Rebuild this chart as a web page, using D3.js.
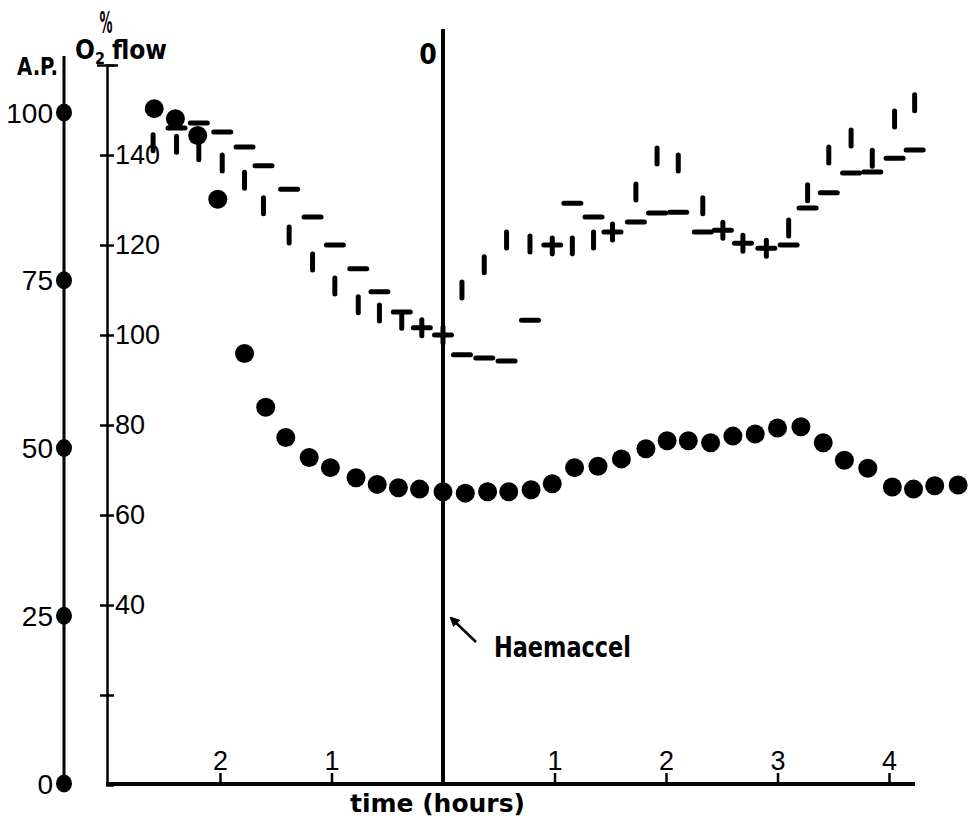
<!DOCTYPE html>
<html>
<head>
<meta charset="utf-8">
<script src="https://cdn.jsdelivr.net/npm/d3@7"></script>
<style>
  body { margin: 0; background: #fff; }
  svg { display: block; background: #fff; }
</style>
</head>
<body>
<svg width="975" height="820"></svg>
<script>
// arterial pressure (dots), % of control
var apTime = [-2.59,-2.40,-2.20,-2.02,-1.78,-1.59,-1.41,-1.20,-1.01,-0.78,-0.59,-0.40,-0.21,0,
  0.20,0.40,0.59,0.79,0.98,1.18,1.39,1.60,1.82,2.01,2.20,2.40,2.60,2.80,3.00,3.21,3.41,3.60,3.81,4.03,4.22,4.41,4.62];
var apValue = [100.5,99,96.5,87,64,56,51.5,48.5,47,45.5,44.5,44,43.8,43.4,
  43.2,43.4,43.4,43.7,44.6,47,47.2,48.3,49.8,51,51,50.7,51.7,52,52.9,53.1,50.7,48.1,46.9,44.1,43.8,44.3,44.4];

// O2 flow marks: horizontal dashes and vertical bars
var flowTime = [-2.60,-2.39,-2.19,-1.98,-1.78,-1.61,-1.38,-1.17,-0.97,-0.76,-0.57,-0.37,-0.19,0,
  0.17,0.37,0.57,0.78,0.98,1.16,1.35,1.52,1.73,1.92,2.11,2.33,2.51,2.69,2.90,3.10,3.27,3.46,3.66,3.85,4.05,4.23];
var flowDash = [null,146,147.1,145.1,141.8,137.6,132.4,126.2,120,114.7,109.6,105.1,101.6,100,
  95.6,94.9,94.2,103.3,120,129.3,126.2,122.9,125.1,127.1,127.3,122.9,123.3,120.4,119.3,120,128.2,131.6,136,136.2,139.3,141.1];
var flowBar = [142.7,142.4,140.7,138.2,134.4,128.7,122.2,116.2,110.9,106.7,104.9,103.3,101.6,100,
  110,115.6,121.1,120.2,119.8,119.8,121.1,122.9,131.8,139.8,138.2,128.7,123.3,120.4,119.3,123.8,131.6,140,143.8,139.3,148,151.6];

var apTicks = [0, 25, 50, 75, 100];
var flowTicks = [20, 40, 60, 80, 100, 120, 140, 160];
var timeTicks = [-2, -1, 0, 1, 2, 3, 4];

var svg = d3.select("svg");
var numFont = "'Liberation Sans', Arial, sans-serif";
var boldFont = "'Liberation Sans Narrow', 'DejaVu Sans Condensed', 'Liberation Sans', sans-serif";

var x = d3.scaleLinear().domain([0, 4]).range([443, 889]);
var yAP = d3.scaleLinear().domain([0, 100]).range([783, 112]);
var yFlow = d3.scaleLinear().domain([0, 160]).range([785, 65]);

// A.P. axis
svg.append("line")
  .attr("x1", 64).attr("x2", 64).attr("y1", 56).attr("y2", 792)
  .attr("stroke", "#000").attr("stroke-width", 3);

var apAxis = svg.append("g")
  .attr("transform", "translate(64,0)")
  .call(d3.axisLeft(yAP).tickValues(apTicks).tickSize(0).tickPadding(11));
apAxis.select(".domain").remove();
apAxis.selectAll(".tick text")
  .attr("font-family", numFont).attr("font-size", 28).attr("fill", "#000")
  .attr("dy", "0.36em");
apAxis.selectAll(".tick").append("ellipse")
  .attr("rx", 8).attr("ry", 9).attr("fill", "#000");

// O2 flow axis
var flowAxis = svg.append("g")
  .attr("transform", "translate(107,0)")
  .call(d3.axisRight(yFlow).tickValues(flowTicks).tickSizeOuter(0).tickSize(7).tickPadding(1)
    .tickFormat(function(d) { return (d === 20 || d === 160) ? "" : d; }));
flowAxis.select(".domain").attr("stroke", "#000").attr("stroke-width", 2.5);
flowAxis.selectAll(".tick line")
  .attr("x1", function(d) { return d === 160 ? -10 : -7; })
  .attr("x2", function(d) { return d === 160 ? 11 : 7; })
  .attr("stroke", "#000").attr("stroke-width", 2.5);
flowAxis.selectAll(".tick text")
  .attr("font-family", numFont).attr("font-size", 27).attr("fill", "#000");

// time axis
svg.append("line")
  .attr("x1", 106).attr("x2", 915).attr("y1", 784).attr("y2", 784)
  .attr("stroke", "#000").attr("stroke-width", 4);
var timeAxis = svg.append("g")
  .attr("transform", "translate(0,784)")
  .call(d3.axisTop(x).tickValues(timeTicks).tickSize(11).tickPadding(3)
    .tickFormat(function(d) { return d === 0 ? "" : Math.abs(d); }));
timeAxis.select(".domain").remove();
timeAxis.selectAll(".tick line").attr("stroke", "#000").attr("stroke-width", 2.5);
timeAxis.selectAll(".tick text")
  .attr("font-family", numFont).attr("font-size", 27).attr("fill", "#000");

// infusion line at time 0
svg.append("line")
  .attr("x1", x(0)).attr("x2", x(0)).attr("y1", 29).attr("y2", 784)
  .attr("stroke", "#000").attr("stroke-width", 4);

// labels
svg.append("text").attr("x", 17).attr("y", 75)
  .attr("font-family", boldFont).attr("font-weight", "bold").attr("font-size", 24)
  .attr("textLength", 41).attr("lengthAdjust", "spacingAndGlyphs").text("A.P.");
svg.append("text").attr("x", 106).attr("y", 33).attr("text-anchor", "middle")
  .attr("font-family", boldFont).attr("font-weight", "bold").attr("font-size", 31)
  .attr("textLength", 13).attr("lengthAdjust", "spacingAndGlyphs").text("%");
var o2 = svg.append("text").attr("x", 75).attr("y", 59)
  .attr("font-family", boldFont).attr("font-weight", "bold").attr("font-size", 26);
o2.append("tspan").text("O");
o2.append("tspan").attr("font-size", 16).attr("dy", 5).text("2");
o2.append("tspan").attr("dy", -5).attr("dx", 7).text("flow");
svg.append("text").attr("x", 428).attr("y", 64).attr("text-anchor", "middle")
  .attr("font-family", boldFont).attr("font-weight", "bold").attr("font-size", 28).text("0");
svg.append("text").attr("x", 350).attr("y", 812)
  .attr("font-family", boldFont).attr("font-weight", "bold").attr("font-size", 25)
  .attr("textLength", 175).attr("lengthAdjust", "spacingAndGlyphs").text("time (hours)");
svg.append("text").attr("x", 494).attr("y", 657)
  .attr("font-family", boldFont).attr("font-weight", "bold").attr("font-size", 28)
  .attr("textLength", 137).attr("lengthAdjust", "spacingAndGlyphs").text("Haemaccel");

// arrow to infusion line
svg.append("defs").append("marker")
  .attr("id", "arrow").attr("viewBox", "0 0 10 10").attr("refX", 8).attr("refY", 5)
  .attr("markerWidth", 4).attr("markerHeight", 4).attr("orient", "auto")
  .append("path").attr("d", "M0,0L10,5L0,10z").attr("fill", "#000");
svg.append("line")
  .attr("x1", 476).attr("y1", 642).attr("x2", 451).attr("y2", 618)
  .attr("stroke", "#000").attr("stroke-width", 2.5).attr("marker-end", "url(#arrow)");

// O2 flow marks
var flow = flowTime.map(function(t, i) { return { t: t, dash: flowDash[i], bar: flowBar[i] }; });
svg.append("g").selectAll("line")
  .data(flow.filter(function(d) { return d.dash !== null; }))
  .enter().append("line")
  .attr("x1", function(d) { return x(d.t) - 8.5; })
  .attr("x2", function(d) { return x(d.t) + 8.5; })
  .attr("y1", function(d) { return yFlow(d.dash); })
  .attr("y2", function(d) { return yFlow(d.dash); })
  .attr("stroke", "#000").attr("stroke-width", 5).attr("stroke-linecap", "round");
svg.append("g").selectAll("line")
  .data(flow.filter(function(d) { return d.bar !== null; }))
  .enter().append("line")
  .attr("x1", function(d) { return x(d.t); })
  .attr("x2", function(d) { return x(d.t); })
  .attr("y1", function(d) { return yFlow(d.bar) - 8; })
  .attr("y2", function(d) { return yFlow(d.bar) + 8; })
  .attr("stroke", "#000").attr("stroke-width", 5).attr("stroke-linecap", "round");

// A.P. dots
svg.append("g").selectAll("circle")
  .data(apTime.map(function(t, i) { return { t: t, v: apValue[i] }; }))
  .enter().append("circle")
  .attr("cx", function(d) { return x(d.t); })
  .attr("cy", function(d) { return yAP(d.v); })
  .attr("r", 9.5)
  .attr("fill", "#000");
</script>
</body>
</html>
